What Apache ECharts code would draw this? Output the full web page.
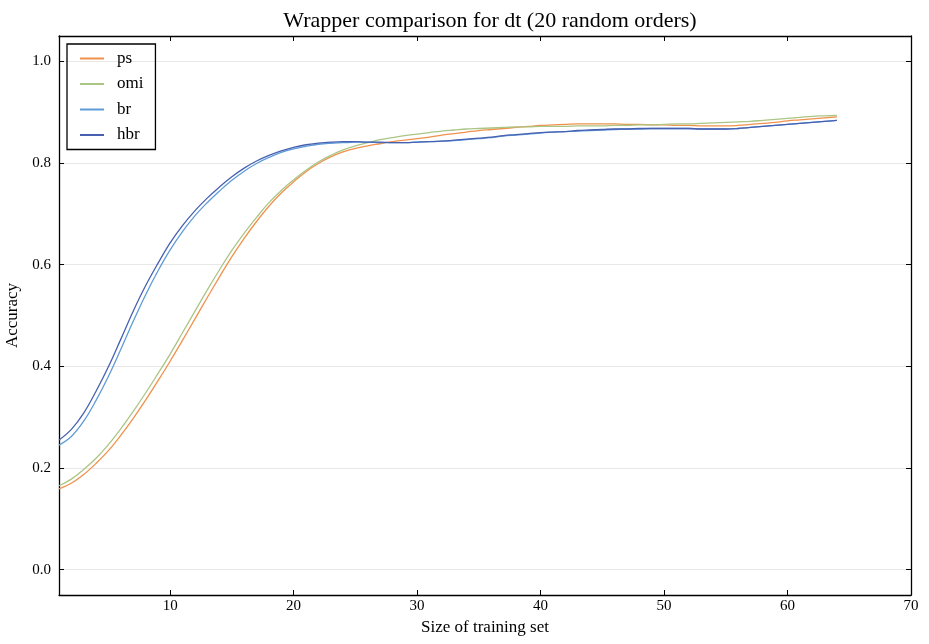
<!DOCTYPE html>
<html>
<head>
<meta charset="utf-8">
<script src="https://cdn.jsdelivr.net/npm/echarts@6/dist/echarts.min.js"></script>
<style>
  html, body { margin: 0; padding: 0; background: #fff; }
  #chart { width: 929px; height: 644px; }
</style>
</head>
<body>
<div id="chart"></div>
<script>
var sizes = [];
for (var i = 1; i <= 64; i++) sizes.push(i);

var ps = [0.159, 0.170, 0.187, 0.209, 0.234, 0.264, 0.297, 0.333, 0.371, 0.410,
  0.451, 0.493, 0.535, 0.576, 0.616, 0.652, 0.685, 0.715, 0.741, 0.763,
  0.783, 0.799, 0.812, 0.822, 0.829, 0.834, 0.838, 0.842, 0.845, 0.848,
  0.851, 0.855, 0.858, 0.861, 0.864, 0.866, 0.868, 0.870, 0.872, 0.874,
  0.875, 0.876, 0.877, 0.877, 0.877, 0.877, 0.876, 0.876, 0.875, 0.875,
  0.874, 0.874, 0.873, 0.873, 0.873, 0.874, 0.876, 0.878, 0.880, 0.883,
  0.885, 0.887, 0.889, 0.891];
var omi = [0.165, 0.178, 0.197, 0.219, 0.246, 0.277, 0.311, 0.347, 0.385, 0.424,
  0.466, 0.508, 0.550, 0.590, 0.628, 0.662, 0.693, 0.722, 0.746, 0.767,
  0.786, 0.802, 0.815, 0.826, 0.834, 0.840, 0.846, 0.850, 0.854, 0.857,
  0.860, 0.863, 0.865, 0.867, 0.868, 0.869, 0.870, 0.871, 0.871, 0.872,
  0.872, 0.872, 0.873, 0.873, 0.873, 0.874, 0.874, 0.875, 0.875, 0.876,
  0.877, 0.877, 0.878, 0.879, 0.880, 0.881, 0.882, 0.884, 0.886, 0.888,
  0.890, 0.892, 0.893, 0.894];
var br = [0.245, 0.262, 0.292, 0.333, 0.380, 0.433, 0.488, 0.540, 0.587, 0.629,
  0.665, 0.696, 0.722, 0.745, 0.766, 0.784, 0.799, 0.811, 0.821, 0.828,
  0.833, 0.837, 0.839, 0.840, 0.841, 0.841, 0.840, 0.840, 0.840, 0.841,
  0.842, 0.843, 0.844, 0.846, 0.848, 0.850, 0.853, 0.855, 0.857, 0.859,
  0.861, 0.862, 0.863, 0.864, 0.865, 0.866, 0.867, 0.867, 0.868, 0.868,
  0.868, 0.868, 0.867, 0.867, 0.867, 0.868, 0.870, 0.872, 0.874, 0.876,
  0.878, 0.880, 0.882, 0.884];
var hbr = [0.255, 0.276, 0.308, 0.351, 0.399, 0.453, 0.508, 0.558, 0.602, 0.643,
  0.677, 0.706, 0.731, 0.753, 0.773, 0.790, 0.804, 0.815, 0.824, 0.831,
  0.836, 0.839, 0.841, 0.842, 0.842, 0.841, 0.841, 0.840, 0.840, 0.841,
  0.842, 0.843, 0.845, 0.847, 0.849, 0.851, 0.854, 0.856, 0.858, 0.860,
  0.861, 0.862, 0.864, 0.865, 0.866, 0.867, 0.867, 0.868, 0.868, 0.868,
  0.868, 0.868, 0.867, 0.867, 0.867, 0.868, 0.870, 0.872, 0.874, 0.876,
  0.878, 0.880, 0.882, 0.884];

var names = ['ps', 'omi', 'br', 'hbr'];
var colors = ['#F0914C', '#ABC585', '#5E9CD6', '#4760B2'];
var values = [ps, omi, br, hbr];

var font = 'Liberation Serif';

function pairs(ys) {
  return sizes.map(function (x, i) { return [x, ys[i]]; });
}

var chart = echarts.init(document.getElementById('chart'));

var frameLine = { show: true, onZero: false, lineStyle: { color: '#000', width: 1.3 } };
var innerTick = { show: true, inside: true, length: 5, lineStyle: { color: '#000', width: 1 } };

var option = {
  animation: false,
  title: {
    text: 'Wrapper comparison for dt (20 random orders)',
    left: 485,
    textAlign: 'center',
    top: 5,
    textStyle: { fontFamily: font, fontSize: 22, fontWeight: 'normal', color: '#000' }
  },
  legend: {
    orient: 'vertical',
    left: 67,
    top: 44,
    padding: [6, 12, 6, 12],
    itemGap: 8.5,
    itemWidth: 24,
    itemHeight: 14,
    borderColor: '#000',
    borderWidth: 1.3,
    borderRadius: 0,
    itemStyle: { opacity: 0 },
    textStyle: { fontFamily: font, fontSize: 17, color: '#000', padding: [0, 0, 0, 8] },
    data: names
  },
  grid: { left: 59, right: 18, top: 36, bottom: 49, outerBoundsMode: 'none' },
  xAxis: [{
    type: 'value',
    min: 1,
    max: 70,
    name: 'Size of training set',
    nameLocation: 'middle',
    nameGap: 22,
    nameTextStyle: { fontFamily: font, fontSize: 17, color: '#000', verticalAlign: 'top' },
    axisLine: frameLine,
    axisTick: innerTick,
    axisLabel: {
      fontFamily: font, fontSize: 15, color: '#000', margin: 4,
      formatter: function (v) { return v % 10 === 0 ? String(v) : ''; }
    },
    splitLine: { show: false }
  }, {
    type: 'value',
    position: 'top',
    min: 1,
    max: 70,
    axisLine: frameLine,
    axisTick: innerTick,
    axisLabel: { show: false },
    splitLine: { show: false }
  }],
  yAxis: [{
    type: 'value',
    min: -0.05,
    max: 1.05,
    name: 'Accuracy',
    nameLocation: 'middle',
    nameGap: 26,
    nameTextStyle: { fontFamily: font, fontSize: 17, color: '#000' },
    axisLine: frameLine,
    axisTick: innerTick,
    axisLabel: {
      fontFamily: font, fontSize: 15, color: '#000', margin: 8,
      formatter: function (v) {
        var k = v * 5;
        return Math.abs(k - Math.round(k)) < 1e-6 ? v.toFixed(1) : '';
      }
    },
    splitLine: { show: true, lineStyle: { color: '#e8e8e8', width: 1 } }
  }, {
    type: 'value',
    position: 'right',
    min: -0.05,
    max: 1.05,
    axisLine: frameLine,
    axisTick: innerTick,
    axisLabel: { show: false },
    splitLine: { show: false }
  }],
  series: names.map(function (n, i) {
    return {
      name: n,
      type: 'line',
      data: pairs(values[i]),
      symbol: 'none',
      smooth: 0.4,
      color: colors[i],
      lineStyle: { width: 1.3, color: colors[i] },
      z: 3 + i
    };
  })
};

chart.setOption(option);
</script>
</body>
</html>
